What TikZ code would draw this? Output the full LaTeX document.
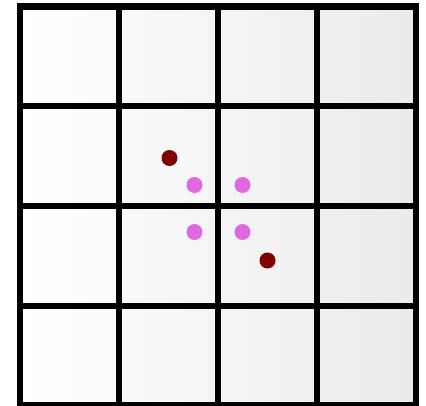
\documentclass[tikz,border=0pt]{standalone}
\begin{document}
\begin{tikzpicture}
[x=1pt, y=-1pt]
\tikzstyle{gridline}=[line width=6.5pt, black]
\tikzstyle{outer}=[circle, fill={rgb,255:red,128;green,0;blue,0}, inner sep=0pt, minimum size=16pt]
\tikzstyle{inner}=[circle, fill={rgb,255:red,226;green,104;blue,226}, inner sep=0pt, minimum size=16pt]
\useasboundingbox (0,0) rectangle (426,406);
\shade[left color=white, right color=black!8] (20,6.5) rectangle (416,405);

\draw[gridline]  (20,6.5) rectangle (416,405);
\draw[gridline]  (119,6.5) -- (119,405);
\draw[gridline]  (218,6.5) -- (218,405);
\draw[gridline]  (317,6.5) -- (317,405);
\draw[gridline]  (20,106) -- (416,106);
\draw[gridline]  (20,206) -- (416,206);
\draw[gridline]  (20,306) -- (416,306);

\node[outer]  (P1)  at (169.5,158) {};
\node[inner]  (Q1)  at (194.5,185) {};
\node[inner]  (Q2)  at (242.5,185) {};
\node[inner]  (Q3)  at (194.5,232) {};
\node[inner]  (Q4)  at (242.5,232) {};
\node[outer]  (P2)  at (267.5,260.5) {};
\end{tikzpicture}
\end{document}
